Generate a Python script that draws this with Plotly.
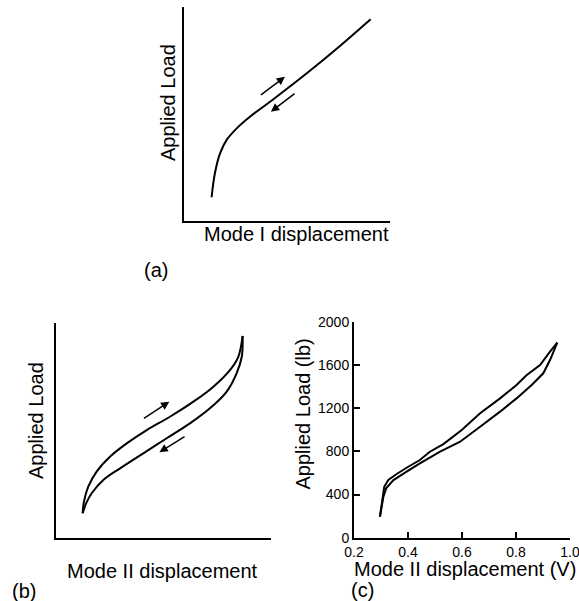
import plotly.graph_objects as go

# ---------------- data ----------------
# Panel (a): Mode I, schematic (arbitrary units 0-100)
a_disp = [13.4, 15.0, 17.5, 20.7, 25.6, 32.0, 43.4, 59.6, 75.7, 90.6]
a_load = [11.1, 22.3, 31.6, 37.9, 43.3, 48.7, 56.9, 69.0, 81.8, 94.3]
# arrows (tail -> head) for panel (a)
a_arrow_up = [(36.6, 58.4), (49.0, 67.4)]
a_arrow_down = [(54.4, 60.1), (42.2, 51.1)]

# Panel (b): Mode II, schematic (arbitrary units 0-100)
b_load_disp = [12.4, 13.0, 15.0, 18.9, 25.1, 32.9, 42.2, 53.0, 63.9, 73.2, 80.9, 84.8, 86.8]
b_load_val = [11.5, 16.9, 23.9, 30.9, 37.8, 44.0, 50.2, 56.4, 63.4, 70.4, 78.1, 84.3, 94.0]
b_unload_disp = [86.8, 86.4, 84.0, 79.4, 71.6, 62.3, 51.5, 40.6, 29.8, 22.0, 16.6, 14.0, 12.4]
b_unload_val = [94.0, 84.3, 76.6, 68.1, 60.3, 53.3, 46.4, 39.4, 32.4, 27.0, 20.8, 16.1, 11.5]
b_arrow_up = [(40.2, 55.2), (52.7, 63.4)]
b_arrow_down = [(60.5, 47.6), (48.1, 39.9)]

# Panel (c): measured Mode II displacement (V) vs applied load (lb)
c_load_disp = [0.296, 0.305, 0.312, 0.327, 0.358, 0.401, 0.444, 0.481, 0.531, 0.599,
               0.667, 0.741, 0.802, 0.840, 0.889, 0.926, 0.953]
c_load_val = [194, 349, 472, 534, 590, 657, 719, 796, 867, 997,
              1152, 1290, 1414, 1506, 1599, 1722, 1806]
c_unload_disp = [0.953, 0.926, 0.901, 0.858, 0.802, 0.741, 0.667, 0.593, 0.519,
                 0.444, 0.395, 0.346, 0.319, 0.309, 0.296]
c_unload_val = [1806, 1645, 1522, 1414, 1290, 1167, 1028, 889, 796,
                689, 611, 534, 457, 380, 194]
c_xticks = [0.2, 0.4, 0.6, 0.8, 1.0]
c_xtick_text = ["0.2", "0.4", "0.6", "0.8", "1.0"]
c_yticks = [0, 400, 800, 1200, 1600, 2000]
c_ytick_text = ["0", "400", "800", "1200", "1600", "2000"]

W, H = 579, 601
FONT = "Liberation Sans, Arial, Helvetica, sans-serif"
line_style = dict(color="black", width=2)

fig = go.Figure()
fig.add_trace(go.Scatter(x=a_disp, y=a_load, mode="lines", line=dict(line_style, shape="spline"),
                         xaxis="x", yaxis="y", showlegend=False, hoverinfo="skip"))
fig.add_trace(go.Scatter(x=b_load_disp, y=b_load_val, mode="lines", line=dict(line_style, shape="spline"),
                         xaxis="x2", yaxis="y2", showlegend=False, hoverinfo="skip"))
fig.add_trace(go.Scatter(x=b_unload_disp, y=b_unload_val, mode="lines", line=dict(line_style, shape="spline"),
                         xaxis="x2", yaxis="y2", showlegend=False, hoverinfo="skip"))
fig.add_trace(go.Scatter(x=c_load_disp, y=c_load_val, mode="lines", line=line_style,
                         xaxis="x3", yaxis="y3", showlegend=False, hoverinfo="skip"))
fig.add_trace(go.Scatter(x=c_unload_disp, y=c_unload_val, mode="lines", line=line_style,
                         xaxis="x3", yaxis="y3", showlegend=False, hoverinfo="skip"))


def px(x):
    return x / W


def py(y):
    return 1 - y / H


blank_axis = dict(showline=True, linecolor="black", linewidth=2, showgrid=False, zeroline=False,
                  showticklabels=False, ticks="", range=[0, 100], fixedrange=True, automargin=False)

fig.update_layout(
    width=W, height=H, margin=dict(l=0, r=0, t=0, b=0),
    template="none", paper_bgcolor="white", plot_bgcolor="white",
    font=dict(family=FONT, color="black", size=14),
    xaxis=dict(blank_axis, domain=[px(184), px(390)], anchor="y"),
    yaxis=dict(blank_axis, domain=[py(221), py(7)], anchor="x"),
    xaxis2=dict(blank_axis, domain=[px(56), px(271)], anchor="y2"),
    yaxis2=dict(blank_axis, domain=[py(538), py(323)], anchor="x2"),
    xaxis3=dict(domain=[px(354), px(570)], anchor="y3", range=[0.2, 1.0],
                showline=True, linecolor="black", linewidth=2, showgrid=False, zeroline=False,
                ticks="inside", ticklen=6, tickwidth=2, tickcolor="black",
                tickvals=c_xticks, ticktext=c_xtick_text, tickfont=dict(size=14),
                ticklabeloverflow="allow",
                fixedrange=True, automargin=False),
    yaxis3=dict(domain=[py(537.7), py(321.7)], anchor="x3", range=[0, 2000],
                showline=True, linecolor="black", linewidth=2, showgrid=False, zeroline=False,
                ticks="inside", ticklen=6, tickwidth=2, tickcolor="black",
                tickvals=c_yticks, ticktext=c_ytick_text, tickfont=dict(size=14),
                ticklabeloverflow="allow",
                fixedrange=True, automargin=False),
)

# arrows
for (xr, yr, arrows) in [("x", "y", [a_arrow_up, a_arrow_down]),
                         ("x2", "y2", [b_arrow_up, b_arrow_down])]:
    for (tail, head) in arrows:
        fig.add_annotation(x=head[0], y=head[1], ax=tail[0], ay=tail[1], xref=xr, yref=yr,
                           axref=xr, ayref=yr, text="", showarrow=True, arrowhead=2,
                           arrowsize=1.1, arrowwidth=1.5, arrowcolor="black")

# text labels
labels = [
    ("Applied Load", 168, 103, -90),
    ("Mode I displacement", 296, 234, 0),
    ("(a)", 156, 270, 0),
    ("Applied Load", 36, 421, -90),
    ("Mode II displacement", 162.5, 571, 0),
    ("(b)", 24, 591, 0),
    ("Applied Load (lb)", 302.5, 414, -90),
    ("Mode II displacement (V)", 465, 569, 0),
    ("(c)", 362, 590, 0),
]
for text, x, y, ang in labels:
    fig.add_annotation(x=px(x), y=py(y), xref="paper", yref="paper", text=text, showarrow=False,
                       textangle=ang, xanchor="center", yanchor="middle",
                       font=dict(size=20, family=FONT, color="black"))

fig.write_html("out.html", config={"displayModeBar": False, "staticPlot": True},
               post_script="document.body.style.margin='0';document.body.style.overflow='hidden';")
